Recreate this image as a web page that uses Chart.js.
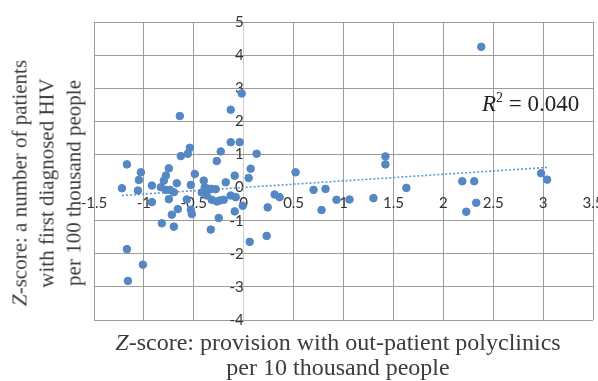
<!DOCTYPE html>
<html lang="en">
<head>
<meta charset="UTF-8" />
<title>Z-score scatter</title>
<script src="https://cdn.jsdelivr.net/npm/chart.js"></script>
<style>
  body { margin: 0; background: #fff; }
  #wrap { position: relative; width: 598px; height: 381px; }
  .serif { position: absolute; white-space: nowrap; font-family: "Liberation Serif", "Times New Roman", serif; color: #3c3c3c; }
  #ytitle { left: 47px; top: 183px; transform: translate(-50%, -50%) rotate(-90deg); font-size: 21px; line-height: 27px; text-align: center; }
  #xtitle { left: 338px; top: 330px; transform: translateX(-50%); font-size: 24px; line-height: 25px; text-align: center; }
  #r2 { left: 482px; top: 91px; font-size: 23px; line-height: 26px; color: #222; }
  #r2 sup { font-size: 14px; vertical-align: 9px; line-height: 0; }
</style>
</head>
<body>
<div id="wrap">
  <canvas id="chart"></canvas>
  <div id="ytitle" class="serif"><i>Z</i>-score: a number of patients<br>with first diagnosed HIV<br>per 100 thousand people</div>
  <div id="xtitle" class="serif"><i>Z</i>-score: provision with out-patient polyclinics<br>per 10 thousand people</div>
  <div id="r2" class="serif"><i>R</i><sup>2</sup> = 0.040</div>
</div>
<script>
// valores
const xValues = [
  -1.17, -1.03, -1.05, -1.06, -1.22, -0.92, -0.92, -0.75, -0.78, -0.80,
  -0.83, -0.78, -0.74, -0.70, -0.67, -0.75, -0.66, -0.72, -0.82, -0.70,
  -0.63, -0.56, -0.54, -0.49, -0.53, -0.57, -0.53, -0.52, -0.40, -0.39,
  -0.38, -0.35, -0.32, -0.37, -0.32, -0.27, -0.24, -0.20, -0.33, -0.25,
  -0.27, -0.23, -0.18, -0.09, -0.13, -0.08, -0.09, -0.01, 0.05, 0.07,
  0.13, 0.06, 0.23, 0.24, 0.31, 0.36, 0.52, 0.70, 0.82, 0.93,
  0.78, -1.17, -1.01, -1.16, -0.13, -0.04, -0.02, -0.13, -0.64, 2.38,
  1.42, 1.42, 1.63, 1.06, 1.30, 2.19, 2.31, 2.33, 2.23, 2.98,
  3.04, -0.42, -0.28
];
const yValues = [
  0.70, 0.46, 0.23, -0.09, -0.02, 0.06, -0.44, 0.58, 0.36, 0.21,
  0.01, -0.07, -0.07, -0.14, 0.13, -0.35, -0.65, -0.82, -1.08, -1.18,
  0.95, 1.02, 1.20, 0.41, 0.08, -0.36, -0.67, -0.80, 0.21, 0.01,
  -0.12, -0.04, -0.04, -0.24, -0.37, -0.42, -0.39, -0.37, -1.27, -0.92,
  0.80, 1.09, 0.16, 0.36, -0.24, -0.29, -0.72, -0.55, 0.29, 0.57,
  1.02, -1.64, -1.46, -0.60, -0.21, -0.29, 0.46, -0.07, -0.04, -0.37,
  -0.68, -1.86, -2.33, -2.82, 1.37, 1.37, 2.84, 2.35, 2.16, 4.25,
  0.94, 0.70, -0.01, -0.36, -0.32, 0.19, 0.19, -0.46, -0.73, 0.43,
  0.24, -0.15, -0.05
];
// linha de tendência (extremos)
const trendX = [-1.22, 3.05];
const trendY = [-0.24, 0.61];

const xTicks = [-1.5, -1, -0.5, 0, 0.5, 1, 1.5, 2, 2.5, 3, 3.5];
const yTicks = [-4, -3, -2, -1, 0, 1, 2, 3, 4, 5];

const points = xValues.map((x, i) => ({ x: x, y: yValues[i] }));
const trend = trendX.map((x, i) => ({ x: x, y: trendY[i] }));

const tickFont = { family: "Lato, 'Open Sans', sans-serif", size: 15 };
const gridGray = "#9c9c9c";

new Chart(document.getElementById("chart"), {
  type: "scatter",
  data: {
    datasets: [
      {
        label: "pontos",
        data: points,
        backgroundColor: "#5487c3",
        borderColor: "#5487c3",
        pointRadius: 3.8,
        pointHoverRadius: 3.8
      },
      {
        type: "line",
        label: "tendência",
        data: trend,
        borderColor: "#5b9bd5",
        borderWidth: 1.6,
        borderDash: [2, 2],
        pointRadius: 0,
        fill: false
      }
    ]
  },
  options: {
    responsive: true,
    maintainAspectRatio: false,
    animation: false,
    layout: { padding: { left: 94, right: 5, top: 22, bottom: 61 } },
    plugins: { legend: { display: false }, tooltip: { enabled: false } },
    scales: {
      x: {
        type: "linear",
        min: -1.5,
        max: 3.5,
        position: { y: 0 },
        // eixo no centro: não reservar espaço
        afterFit: s => { s.height = 0; s.paddingLeft = 0; s.paddingRight = 0; },
        afterBuildTicks: s => { s.ticks = xTicks.map(v => ({ value: v })); },
        border: { display: false },
        grid: {
          drawTicks: false,
          color: c => (c.tick && c.tick.value === 0 ? "#cfcfcf" : gridGray),
          lineWidth: 1
        },
        ticks: {
          padding: 7,
          color: "#333",
          font: tickFont,
          maxRotation: 0,
          autoSkip: false,
          callback: v => String(v)
        }
      },
      y: {
        type: "linear",
        min: -4,
        max: 5,
        position: { x: 0 },
        afterFit: s => { s.width = 0; s.paddingTop = 0; s.paddingBottom = 0; },
        afterBuildTicks: s => { s.ticks = yTicks.map(v => ({ value: v })); },
        border: { display: false },
        grid: {
          drawTicks: false,
          color: c => (c.tick && c.tick.value === 0 ? "rgba(0,0,0,0)" : gridGray),
          lineWidth: 1
        },
        ticks: {
          padding: 6,
          color: "#333",
          font: tickFont,
          autoSkip: false,
          callback: v => String(v)
        }
      }
    }
  }
});
</script>
</body>
</html>
